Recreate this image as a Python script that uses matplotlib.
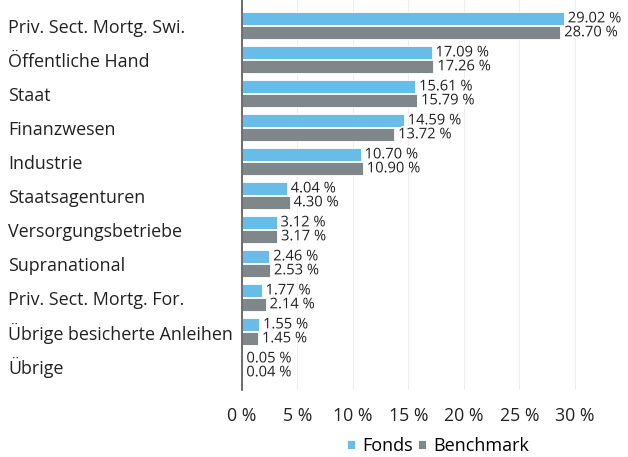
import numpy as np
import matplotlib.pyplot as plt
import matplotlib.patheffects as pe

plt.rcParams['font.family'] = ['Open Sans', 'DejaVu Sans']

categories = ['Priv. Sect. Mortg. Swi.', 'Öffentliche Hand', 'Staat', 'Finanzwesen',
              'Industrie', 'Staatsagenturen', 'Versorgungsbetriebe', 'Supranational',
              'Priv. Sect. Mortg. For.', 'Übrige besicherte Anleihen', 'Übrige']
fonds = [29.02, 17.09, 15.61, 14.59, 10.70, 4.04, 3.12, 2.46, 1.77, 1.55, 0.05]
benchmark = [28.70, 17.26, 15.79, 13.72, 10.90, 4.30, 3.17, 2.53, 2.14, 1.45, 0.04]

blue = '#67bce8'
grey = '#7f878a'

fig = plt.figure(figsize=(6.28, 4.57), dpi=100)
ax = fig.add_axes([242 / 628, 1 - 390 / 457, (628 - 242) / 628, 390 / 457])

y = np.arange(len(categories))
h = 0.39
ax.barh(y - h / 2 - 0.01, fonds, height=h, color=blue, edgecolor='white', linewidth=0.6, label='Fonds')
ax.barh(y + h / 2 + 0.01, benchmark, height=h, color=grey, edgecolor='white', linewidth=0.6, label='Benchmark')

halo = [pe.withStroke(linewidth=2.5, foreground='white')]
for i in range(len(categories)):
    ax.text(fonds[i] + 0.35, y[i] - h / 2, f'{fonds[i]:.2f} %', va='center', ha='left',
            fontsize=10.6, color='#222222', path_effects=halo)
    ax.text(benchmark[i] + 0.35, y[i] + h / 2 + 0.02, f'{benchmark[i]:.2f} %', va='center', ha='left',
            fontsize=10.6, color='#222222', path_effects=halo)

ax.set_xlim(0, 34.8)
ax.set_ylim(10.72, -0.75)
ax.set_xticks(np.arange(0, 31, 5))
ax.set_xticklabels([f'{t} %' for t in range(0, 31, 5)], fontsize=12.8, color='#222222')
ax.set_yticks(y)
ax.set_yticklabels(categories, fontsize=12.9, color='#222222')
ax.tick_params(axis='both', length=0)
ax.tick_params(axis='y', pad=(242 - 8) * 0.72)
for lab in ax.get_yticklabels():
    lab.set_horizontalalignment('left')
ax.tick_params(axis='x', pad=12)

ax.grid(axis='x', color='#eeeeee', linewidth=0.8)
ax.set_axisbelow(True)
for s in ['top', 'right', 'bottom']:
    ax.spines[s].set_visible(False)
ax.spines['left'].set_color('#555555')
ax.spines['left'].set_linewidth(1.2)

ax.legend(loc='center', bbox_to_anchor=(438 / 628, 1 - 446 / 457), bbox_transform=fig.transFigure,
          ncol=2, frameon=False, fontsize=13, handlelength=0.45, handleheight=0.45,
          handletextpad=0.4, columnspacing=0.3, borderpad=0.1)

fig.savefig('out.png', dpi=100)
